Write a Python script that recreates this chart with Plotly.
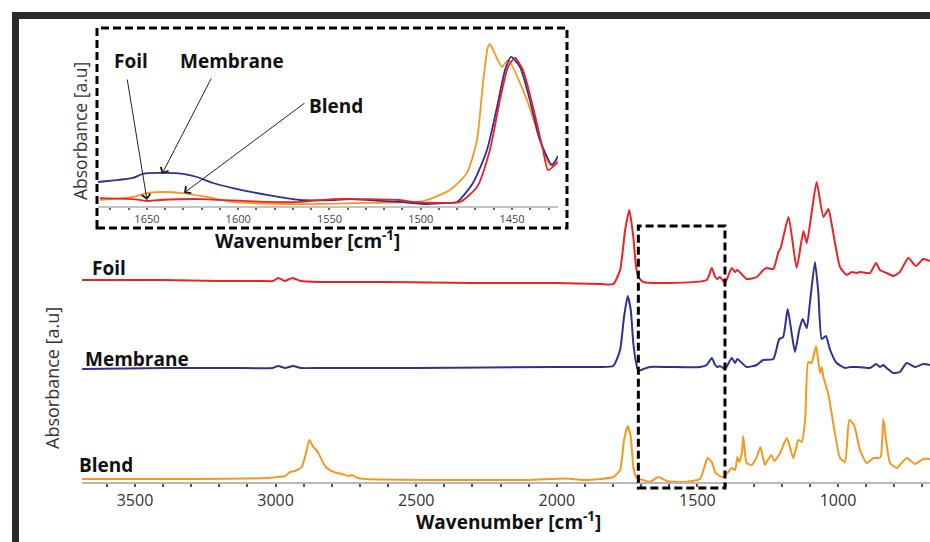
import plotly.graph_objects as go

W, H = 930, 542

# ---------------- main spectra (wavenumber cm-1, absorbance a.u. incl. stacking) ----------------
foil_wn = [3688, 3400, 3200, 3050, 3010, 2990, 2968, 2940, 2910, 2850, 2600, 2300, 2000, 1846, 1799,
           1775, 1757, 1742, 1728, 1718, 1710, 1692, 1609, 1467, 1449, 1437, 1429, 1420, 1402, 1378,
           1366, 1358, 1325, 1289, 1266, 1254, 1230, 1212, 1204, 1176, 1147, 1123, 1111, 1094, 1076,
           1052, 1034, 1022, 993, 969, 951, 934, 922, 886, 865, 851, 827, 803, 780, 750, 723, 697, 673]
foil_abs = [2.03, 2.03, 2.02, 2.02, 2.02, 2.05, 2.02, 2.05, 2.02, 2.01, 2.01, 2.00, 2.00, 1.99, 1.99,
            2.13, 2.53, 2.73, 2.46, 2.16, 2.06, 2.01, 2.00, 2.03, 2.15, 2.06, 2.04, 2.06, 2.00, 2.15,
            2.11, 2.13, 2.04, 2.06, 2.13, 2.15, 2.14, 2.31, 2.35, 2.66, 2.15, 2.52, 2.40, 2.70, 3.01,
            2.66, 2.74, 2.58, 2.16, 2.08, 2.11, 2.10, 2.11, 2.10, 2.20, 2.13, 2.10, 2.07, 2.11, 2.25,
            2.17, 2.24, 2.22]

membrane_wn = [3688, 3390, 3150, 3010, 2991, 2966, 2938, 2910, 2842, 2500, 2000, 1846, 1799, 1775,
               1761, 1748, 1737, 1728, 1718, 1710, 1692, 1669, 1609, 1491, 1467, 1449, 1437, 1429,
               1420, 1402, 1378, 1366, 1358, 1325, 1289, 1266, 1230, 1209, 1195, 1179, 1165, 1153,
               1138, 1126, 1111, 1100, 1082, 1070, 1058, 1043, 1028, 1005, 975, 957, 934, 886, 865,
               851, 839, 827, 803, 780, 756, 726, 697, 673]
membrane_abs = [1.14, 1.15, 1.15, 1.15, 1.17, 1.15, 1.17, 1.15, 1.15, 1.15, 1.16, 1.16, 1.17, 1.33,
                1.66, 1.87, 1.73, 1.40, 1.20, 1.12, 1.14, 1.16, 1.16, 1.16, 1.18, 1.25, 1.18, 1.16,
                1.17, 1.14, 1.25, 1.20, 1.24, 1.16, 1.18, 1.23, 1.24, 1.44, 1.46, 1.74, 1.50, 1.31,
                1.53, 1.64, 1.55, 1.80, 2.21, 1.90, 1.44, 1.47, 1.33, 1.20, 1.15, 1.16, 1.16, 1.15, 1.19,
                1.16, 1.18, 1.15, 1.10, 1.11, 1.20, 1.16, 1.19, 1.18]

blend_wn = [3688, 3500, 3270, 3030, 2996, 2966, 2949, 2931, 2907, 2892, 2880, 2866, 2850, 2822, 2794,
            2765, 2740, 2729, 2708, 2680, 2400, 2100, 2022, 1965, 1908, 1846, 1799, 1775, 1761, 1748,
            1737, 1728, 1718, 1710, 1692, 1669, 1639, 1609, 1550, 1491, 1473, 1464, 1449, 1437, 1426,
            1408, 1390, 1378, 1366, 1358, 1351, 1342, 1337, 1331, 1325, 1307, 1289, 1276, 1260, 1254,
            1237, 1226, 1206, 1182, 1159, 1141, 1129, 1117, 1106, 1094, 1078, 1064, 1058, 1052, 1034,
            1017, 993, 975, 960, 943, 922, 898, 874, 857, 848, 839, 829, 815, 791, 756, 726, 697, 673]
blend_abs = [0.04, 0.04, 0.04, 0.05, 0.06, 0.07, 0.11, 0.12, 0.16, 0.30, 0.43, 0.36, 0.31, 0.16, 0.11,
             0.09, 0.07, 0.08, 0.05, 0.04, 0.03, 0.03, 0.04, 0.045, 0.03, 0.04, 0.06, 0.13, 0.43, 0.57,
             0.46, 0.16, 0.06, 0.04, 0.03, 0.01, 0.06, 0.02, 0.01, 0.04, 0.18, 0.25, 0.21, 0.11, 0.08,
             0.06, 0.11, 0.15, 0.13, 0.26, 0.21, 0.30, 0.47, 0.30, 0.20, 0.18, 0.26, 0.36, 0.18, 0.21,
             0.28, 0.22, 0.30, 0.45, 0.25, 0.43, 0.41, 0.63, 1.21, 1.20, 1.37, 1.10, 1.16, 1.06, 0.88,
             0.60, 0.25, 0.21, 0.63, 0.58, 0.33, 0.20, 0.25, 0.25, 0.26, 0.64, 0.43, 0.20, 0.15, 0.25,
             0.19, 0.24, 0.24]

# ---------------- inset spectra (1680-1425 cm-1) ----------------
in_membrane_wn = [1676.8, 1657.7, 1652.2, 1642.9, 1630.3, 1622.6, 1613.8, 1602.9, 1584.2, 1566.2, 1548.1,
                  1538.8, 1511.4, 1496.6, 1485.6, 1480.1, 1471.4, 1463.7, 1458.2, 1453.8, 1450.5, 1445.6,
                  1440.2, 1434.7, 1428.1, 1424.8]
in_membrane_abs = [0.148, 0.173, 0.198, 0.204, 0.198, 0.179, 0.142, 0.111, 0.068, 0.037, 0.037,
                   0.043, 0.025, 0.012, 0.019, 0.025, 0.142, 0.346, 0.611, 0.840, 0.920, 0.858,
                   0.654, 0.407, 0.253, 0.309]

in_foil_wn = [1675.8, 1657.7, 1650.0, 1642.9, 1621.0, 1584.2, 1566.2, 1548.1, 1511.4, 1504.2, 1489.5,
              1478.5, 1469.2, 1462.1, 1456.6, 1452.2, 1448.4, 1444.0, 1438.5, 1433.0, 1430.3, 1424.8]
in_foil_abs = [0.049, 0.043, 0.031, 0.037, 0.043, 0.025, 0.025, 0.043, 0.037, 0.025, 0.019,
               0.025, 0.117, 0.346, 0.654, 0.858, 0.914, 0.840, 0.611, 0.346, 0.222, 0.272]

in_blend_wn = [1675.8, 1657.7, 1650.0, 1644.0, 1630.3, 1617.1, 1602.9, 1566.2, 1529.5, 1502.1, 1496.6,
               1484.0, 1474.7, 1469.2, 1465.9, 1463.2, 1462.1, 1455.5, 1452.2, 1441.8, 1434.7, 1429.2,
               1425.3]
in_blend_abs = [0.037, 0.056, 0.080, 0.086, 0.080, 0.056, 0.025, 0.012, 0.019, 0.025, 0.037,
                0.099, 0.204, 0.407, 0.759, 0.981, 1.000, 0.858, 0.901, 0.654, 0.407, 0.253,
                0.284]

main_ticks = [3500, 3000, 2500, 2000, 1500, 1000]
inset_ticks = [1650, 1600, 1550, 1500, 1450]
highlight_wn = [1710, 1402]          # region shown in the inset
series_names = ["Foil", "Membrane", "Blend"]

COL_FOIL = "#ec2227"
COL_MEM = "#2e3192"
COL_BLEND = "#f7981d"
FONT = "Open Sans"


def px(x):
    return x / W


def py(y):
    return 1 - y / H


fig = go.Figure()

for wn, ab, c in [(foil_wn, foil_abs, COL_FOIL), (membrane_wn, membrane_abs, COL_MEM),
                  (blend_wn, blend_abs, COL_BLEND)]:
    fig.add_trace(go.Scatter(x=wn, y=ab, mode="lines", xaxis="x", yaxis="y",
                             line=dict(color=c, width=2, shape="spline", smoothing=0.5),
                             showlegend=False, hoverinfo="skip"))

for wn, ab, c in [(in_blend_wn, in_blend_abs, COL_BLEND), (in_membrane_wn, in_membrane_abs, COL_MEM),
                  (in_foil_wn, in_foil_abs, COL_FOIL)]:
    fig.add_trace(go.Scatter(x=wn, y=ab, mode="lines", xaxis="x2", yaxis="y2",
                             line=dict(color=c, width=1.8, shape="spline", smoothing=0.6),
                             showlegend=False, hoverinfo="skip"))

shapes = [
    # outer frame bars
    dict(type="rect", xref="paper", yref="paper", x0=px(12), x1=1, y0=py(19), y1=py(12),
         fillcolor="#2a2a2a", line=dict(width=0), layer="above"),
    dict(type="rect", xref="paper", yref="paper", x0=px(12), x1=px(19), y0=0, y1=py(12),
         fillcolor="#2a2a2a", line=dict(width=0), layer="above"),
    # inset dashed border
    dict(type="rect", xref="paper", yref="paper", x0=px(97), x1=px(567), y0=py(228), y1=py(28),
         line=dict(color="black", width=3, dash="8px,4px")),
    # highlighted region in main plot
    dict(type="rect", xref="x", yref="y", x0=highlight_wn[0], x1=highlight_wn[1], y0=-0.05, y1=2.57,
         line=dict(color="black", width=3, dash="8px,4px")),
]

label_font = dict(family=FONT, size=19, color="#111")
annotations = [
    dict(text="<b>Foil</b>", x=px(109), y=py(268)),
    dict(text="<b>Membrane</b>", x=px(137), y=py(359)),
    dict(text="<b>Blend</b>", x=px(106), y=py(465)),
    dict(text="<b>Foil</b>", x=px(131), y=py(61)),
    dict(text="<b>Membrane</b>", x=px(232), y=py(61)),
    dict(text="<b>Blend</b>", x=px(336), y=py(106)),
]
for a in annotations:
    a.update(font=label_font)

annotations += [
    dict(text="<b>Wavenumber [cm<sup>-1</sup>]</b>", x=px(508), y=py(521),
         font=dict(family=FONT, size=19, color="#111")),
    dict(text="<b>Wavenumber [cm<sup>-1</sup>]</b>", x=px(307), y=py(240),
         font=dict(family=FONT, size=19, color="#111")),
    dict(text="Absorbance [a.u]", x=px(52), y=py(378), textangle=-90,
         font=dict(family=FONT, size=18, color="#333")),
    dict(text="Absorbance [a.u]", x=px(80), y=py(131), textangle=-90,
         font=dict(family=FONT, size=17.5, color="#333")),
]
for a in annotations:
    a.update(xref="paper", yref="paper", showarrow=False, xanchor="center", yanchor="middle")

# arrows in inset (head -> tail offsets in pixels)
for head, tail in [((147, 200), (127, 78)), ((162, 174), (212, 77)), ((184, 193), (306, 102))]:
    annotations.append(dict(text="", x=px(head[0]), y=py(head[1]), xref="paper", yref="paper",
                            showarrow=True, ax=tail[0] - head[0], ay=tail[1] - head[1],
                            arrowhead=4, arrowsize=1.7, arrowwidth=1, arrowcolor="#222", standoff=0))

fig.update_layout(
    width=W, height=H,
    margin=dict(l=0, r=0, t=0, b=0),
    paper_bgcolor="white", plot_bgcolor="rgba(0,0,0,0)",
    showlegend=False,
    xaxis=dict(domain=[px(82), 1], range=[3688.5, 672.9], anchor="free", position=py(483),
               showline=True, linecolor="#b8b8b8", linewidth=2, showgrid=False, zeroline=False,
               tickmode="array", tickvals=main_ticks, ticks="outside", ticklen=3, tickwidth=2,
               tickcolor="#555", tickfont=dict(family=FONT, size=16, color="#333"),
               minor=dict(dtick=100, tick0=0, ticks="outside", ticklen=3, tickwidth=2, tickcolor="#555"),
               fixedrange=True),
    yaxis=dict(domain=[py(493), py(170)], range=[-0.10, 3.13], visible=False, fixedrange=True),
    xaxis2=dict(domain=[px(98), px(558)], range=[1676.8, 1424.8], anchor="y2",
                showline=True, linecolor="#c4c4c4", linewidth=1.5, showgrid=False, zeroline=False,
                tickmode="array", tickvals=inset_ticks, ticks="outside", ticklen=2, tickwidth=1.5,
                tickcolor="#666", tickfont=dict(family=FONT, size=11, color="#444"),
                minor=dict(dtick=10, tick0=0, ticks="outside", ticklen=2, tickwidth=1.5, tickcolor="#666"),
                fixedrange=True),
    yaxis2=dict(domain=[py(206), py(32)], range=[0, 1.074], anchor="x2", visible=False, fixedrange=True),
    shapes=shapes,
    annotations=annotations,
)

fig.write_html("out.html")
